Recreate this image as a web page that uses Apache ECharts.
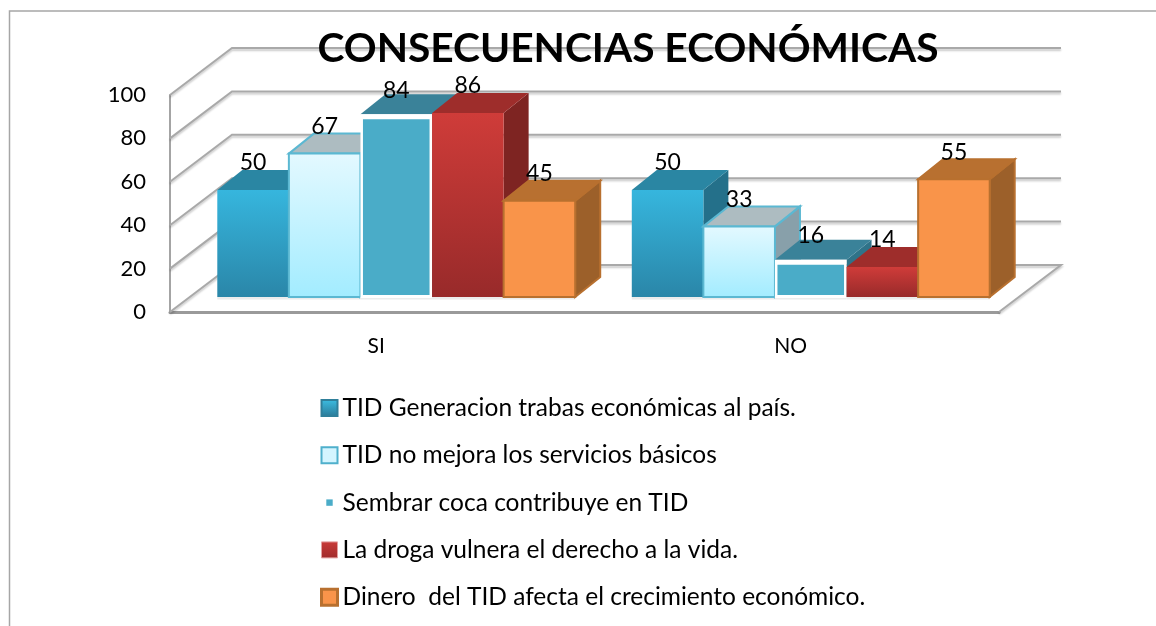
<!DOCTYPE html>
<html><head><meta charset="utf-8">
<style>html,body{margin:0;padding:0;background:#fff}#c{width:1156px;height:626px}</style>
<script src="https://cdn.jsdelivr.net/npm/echarts@6/dist/echarts.min.js"></script>
</head><body><div id="c"></div>
<script>
const titleText = 'CONSECUENCIAS ECONÓMICAS';
const categories = ['SI', 'NO'];
const yTicks = [0, 20, 40, 60, 80, 100];
const seriesNames = [
  'TID Generacion trabas económicas al país.',
  'TID no mejora los servicios básicos',
  'Sembrar coca contribuye en TID',
  'La droga vulnera el derecho a la vida.',
  'Dinero  del TID afecta el crecimiento económico.'
];
const trabas = [50, 50];
const servicios = [67, 33];
const coca = [84, 16];
const droga = [86, 14];
const dinero = [45, 55];
const seriesValues = [trabas, servicios, coca, droga, dinero];

const FONT = 'Lato';
const DEPTH = [25, -20], WALL = [62, -47];
const grad = (a, b) => ({type:'linear',x:0,y:0,x2:0,y2:1,colorStops:[{offset:0,color:a},{offset:1,color:b}]});
const looks = [
  {front:grad('#36b6de','#2a86a8'), top:'#2a86a3', side:'#24708a', line:null},
  {front:grad('#e4f9ff','#a2ecff'), top:'#adbcc1', side:'#88a0aa', line:'#5bb8d2'},
  {front:'#4aacc8', top:'#3a8299', side:'#2f7389', line:null, frame:true},
  {front:grad('#cf3c39','#982a2a'), top:'#9e2d2b', side:'#7e2422', line:null},
  {front:'#f9944a', top:'#b87030', side:'#9c602a', line:'#b8702f'}
];
const legendIcons = [
  {icon:'rect', itemStyle:{color:grad('#3cbfe4','#2a7896'),borderColor:'#2f7f9a',borderWidth:2}},
  {icon:'rect', itemStyle:{color:'#d4f5ff',borderColor:'#4fb0cc',borderWidth:2}},
  {icon:'path://M0 0L0 0M20 20L20 20M6 6H14V14H6Z', itemStyle:{color:'#4aacc8',borderWidth:0}},
  {icon:'rect', itemStyle:{color:grad('#c93a38','#a02c2c'),borderColor:'#e3a0a0',borderWidth:1}},
  {icon:'rect', itemStyle:{color:'#f9944a',borderColor:'#b8702f',borderWidth:3}}
];

function bar3d(i){
  const look = looks[i];
  return function(params, api){
    const band = api.size([1,0])[0];
    const w = band * 0.1727;
    const p = api.coord([api.value(0), api.value(1)]);
    const base = api.coord([api.value(0), 0]);
    const x = p[0] + (i - 2.5) * w, y = p[1], b = base[1];
    const t = look.frame ? y - 3 : y;
    const [dx, dy] = DEPTH;
    const kids = [];
    const lineStyle = look.line ? {stroke:look.line, lineWidth:2} : {};
    kids.push({type:'rect', shape:{x:x, y:b, width:w, height:2.5}, style:{fill:'#ececec'}});
    kids.push({type:'polygon', shape:{points:[[x+w,t],[x+w+dx,t+dy],[x+w+dx,b+dy],[x+w,b]]}, style:Object.assign({fill:look.side}, lineStyle)});
    kids.push({type:'polygon', shape:{points:[[x,t],[x+dx,t+dy],[x+w+dx,t+dy],[x+w,t]]}, style:Object.assign({fill:look.top}, lineStyle)});
    if (look.frame) {
      kids.push({type:'rect', shape:{x:x, y:t, width:w, height:b-t+1}, style:{fill:'#fff'}});
      kids.push({type:'rect', shape:{x:x+2.5, y:y+2, width:w-5, height:b-y-4}, style:{fill:look.front}});
    } else {
      kids.push({type:'rect', shape:{x:x, y:t, width:w, height:b-t}, style:Object.assign({fill:look.front}, lineStyle)});
    }
    kids.push({type:'text', z2:100, style:{text:String(api.value(1)), x:x+w/2, y:y-27, align:'center', verticalAlign:'middle',
      fill:'#000', font:'23px '+FONT}});
    return {type:'group', children:kids};
  };
}

function wallItem(params, api){
  const v = api.value(0);
  const cs = params.coordSys;
  const y = api.coord([0, v])[1];
  const left = cs.x, right = cs.x + cs.width;
  const pts = [[left,y],[left+WALL[0],y+WALL[1]],[right+WALL[0],y+WALL[1]]];
  if (v === 0) pts.push([right,y]);
  return {type:'polyline', shape:{points:pts}, style:{fill:null, stroke:'#a9a9a9', lineWidth:2,
    shadowColor:'rgba(0,0,0,0.22)', shadowBlur:2, shadowOffsetY:2}};
}

const option = {
  animation:false,
  backgroundColor:'#fff',
  title:{text:titleText, left:623, top:21, textAlign:'center',
    textStyle:{fontFamily:FONT, fontWeight:'bold', fontSize:40.7, color:'#000', lineHeight:46}},
  legend:{orient:'vertical', left:315, top:390, itemWidth:16, itemHeight:16, itemGap:21.3, selectedMode:false,
    textStyle:{fontFamily:FONT, fontSize:24.5, color:'#000', lineHeight:26},
    data:seriesNames.map((n,i)=>Object.assign({name:n}, legendIcons[i]))},
  grid:[
    {left:170, top:95, width:829, height:217},
    {left:189, top:83, width:829, height:214}
  ],
  xAxis:[
    {type:'category', gridIndex:0, data:categories, axisTick:{show:false},
     axisLine:{lineStyle:{color:'#9a9a9a', width:3}},
     axisLabel:{margin:24, padding:[0,2,0,0], color:'#000', fontFamily:FONT, fontSize:21}},
    {type:'category', gridIndex:1, data:categories, show:false}
  ],
  yAxis:[
    {type:'value', gridIndex:0, min:0, max:100, interval:20, splitLine:{show:false}, axisTick:{show:false},
     axisLine:{show:true, lineStyle:{color:'#a4a4a4', width:2}},
     axisLabel:{margin:24, padding:[5,0,0,0], color:'#000', fontFamily:FONT, fontSize:22}},
    {type:'value', gridIndex:1, min:0, max:100, show:false}
  ],
  graphic:[{type:'polyline', shape:{points:[[9.5,626],[9.5,11],[1156,11]]}, style:{fill:null, stroke:'#a6a6a6', lineWidth:1.5}, silent:true}],
  series:[
    {type:'custom', name:'pared', xAxisIndex:0, yAxisIndex:0, renderItem:wallItem, silent:true, z:1,
     data:yTicks.map(v=>[v]), encode:{y:0}},
    ...seriesNames.map((n,i)=>({type:'custom', name:n, xAxisIndex:1, yAxisIndex:1, renderItem:bar3d(i), silent:true, z:2+i,
      encode:{x:0,y:1}, data:categories.map((c,k)=>[k, seriesValues[i][k]])}))
  ]
};
const chart = echarts.init(document.getElementById('c'), null, {renderer:'canvas'});
chart.setOption(option);
</script></body></html>
